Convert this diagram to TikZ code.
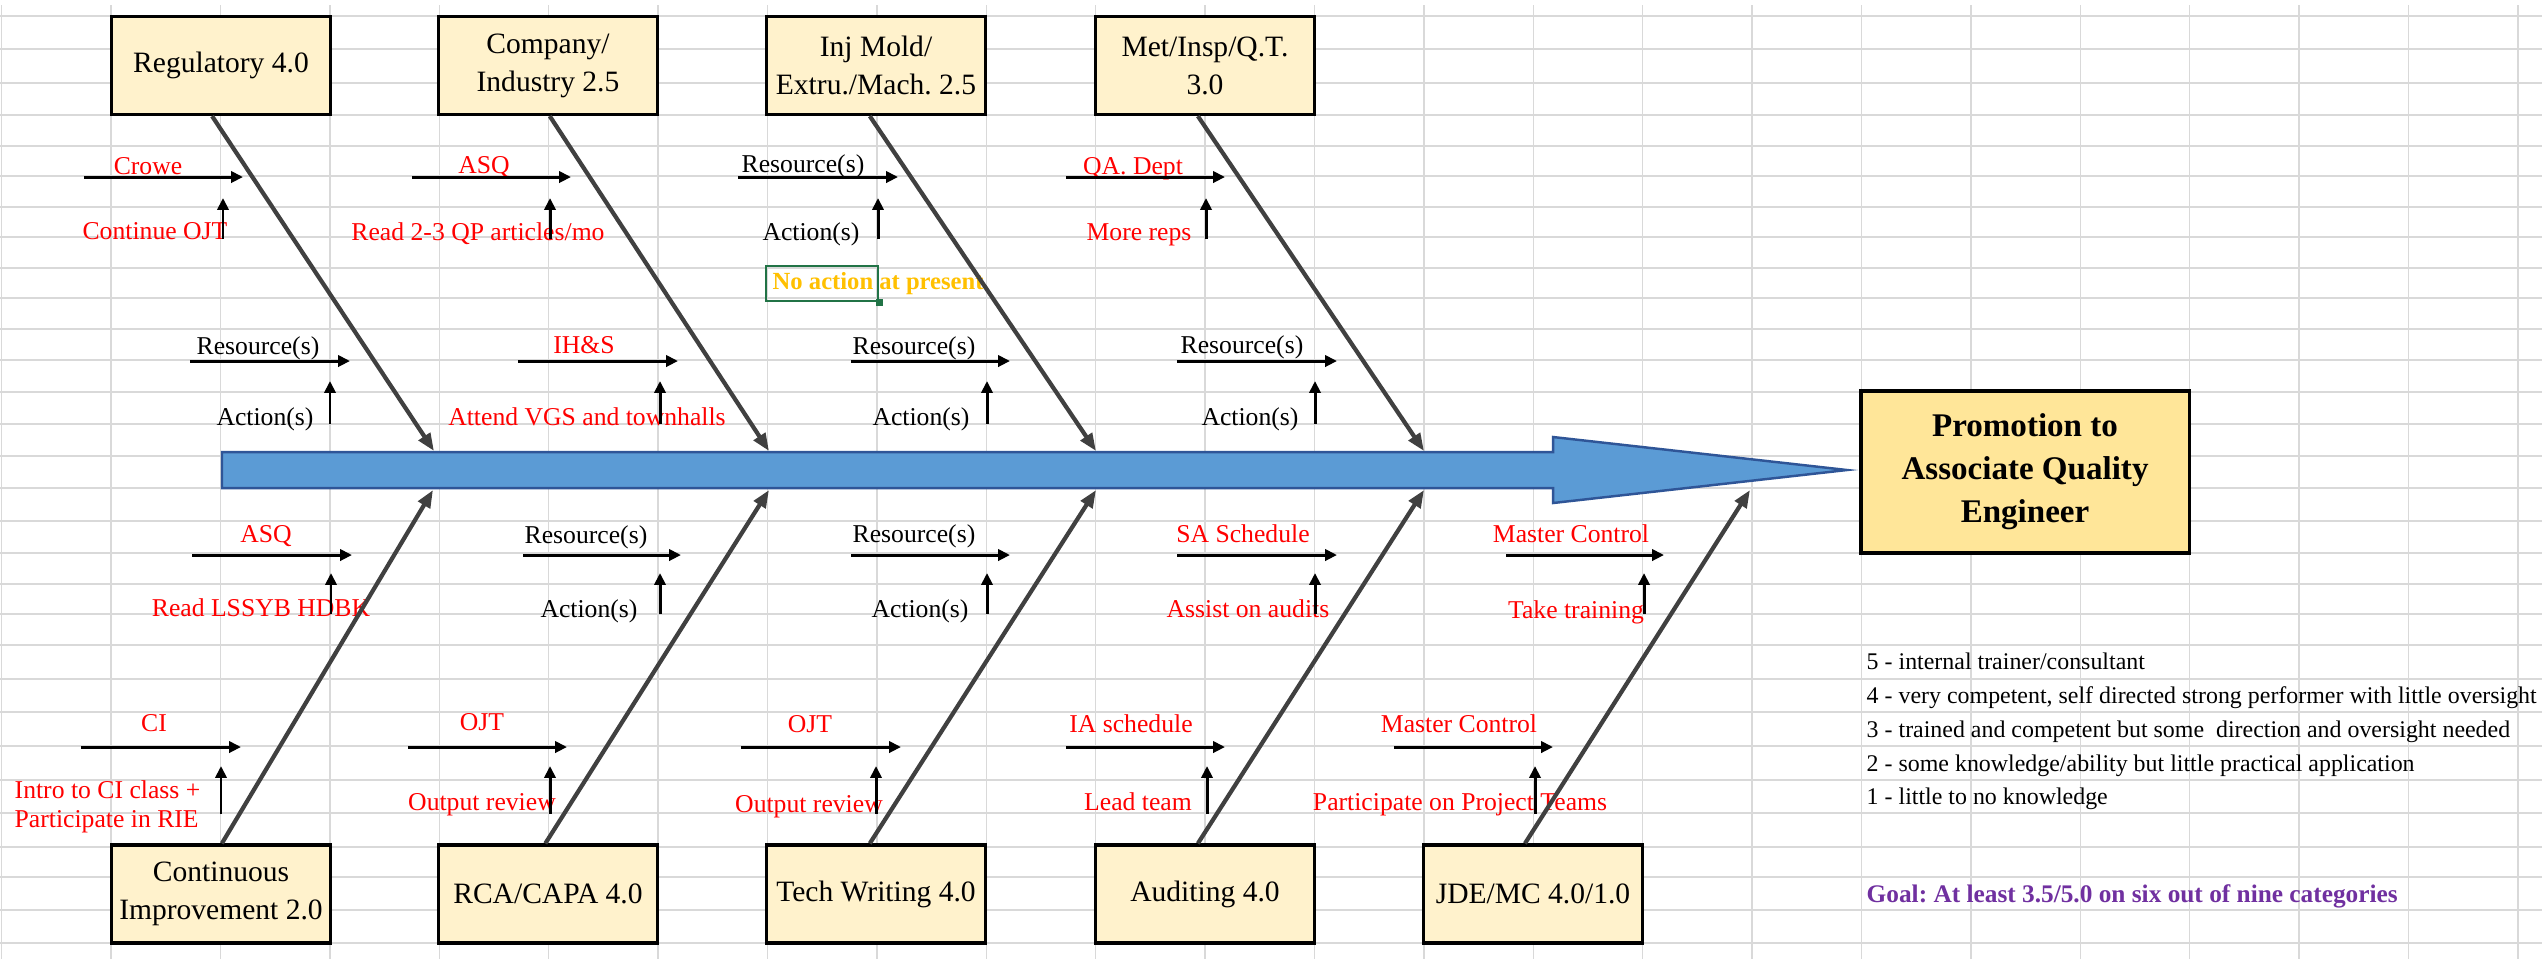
\documentclass[tikz,border=0pt]{standalone}
\usepackage{fontspec}
\setmainfont{Liberation Serif}
\usetikzlibrary{arrows.meta}

\definecolor{gridgray}{HTML}{D9D9D9}
\definecolor{boxfill}{HTML}{FFF2CC}
\definecolor{goalfill}{HTML}{FFE699}
\definecolor{spineblue}{HTML}{5B9BD5}
\definecolor{spineedge}{HTML}{2F5597}
\definecolor{bonegray}{HTML}{404040}
\definecolor{xlred}{HTML}{FF0000}
\definecolor{xlgold}{HTML}{FFC000}
\definecolor{xlgreen}{HTML}{217346}
\definecolor{xlpurple}{HTML}{7030A0}

\begin{document}
\frenchspacing
\begin{tikzpicture}[
    x=0.01cm, y=-0.01cm,
    cell/.style={draw=gridgray, line width=0.4pt},
    catbox/.style={rectangle, draw, line width=0.9pt, fill=boxfill, minimum width=2.19cm, minimum height=0.98cm, align=center, inner sep=0pt, font=\fontsize{8.4}{10.8}\selectfont},
    effectbox/.style={catbox, fill=goalfill, minimum width=3.28cm, minimum height=1.62cm, font=\fontsize{9.4}{12.2}\selectfont\bfseries},
    bone/.style={draw=bonegray, line width=1.2pt, -{Triangle[length=5pt, width=3.8pt]}},
    arrow/.style={line width=0.85pt, -{Triangle[length=3.4pt, width=3.2pt]}},
    tag/.style={inner sep=0pt, text height=1.6ex, text depth=0.45ex, font=\fontsize{7.3}{8.8}\selectfont},
    redtag/.style={tag, text=xlred},
    note/.style={inner sep=0pt, anchor=west, align=left},
]

% ====== Sheet grid ======
\fill[white] (0,0) rectangle (2542,959);
\useasboundingbox (0,0) rectangle (2542,959);
\foreach \gy in {16,49,83,115,146,176,207,237,268,298,329,360,392,424,456,488,521,553,584,614,645,679,712,746,780,813,847,877,910,943}
    \draw[cell] (0,\gy) -- (2542,\gy);
\foreach \gc in {0,...,23}
    \draw[cell] ({1.6+109.4*\gc},5) -- ({1.6+109.4*\gc},959);

% ====== Cell texts, upper half ======
\node[redtag] (reg-res1) at (148,165) {Crowe};
\node[redtag] (reg-act1) at (155,230) {Continue OJT};
\node[tag] (reg-res2) at (258,345) {Resource(s)};
\node[tag] (reg-act2) at (265,416) {Action(s)};

\node[redtag] (comp-res1) at (484,164) {ASQ};
\node[redtag] (comp-act1) at (478,231) {Read 2-3 QP articles/mo};
\node[redtag] (comp-res2) at (584,344) {IH\&S};
\node[redtag] (comp-act2) at (587,416) {Attend VGS and townhalls};

\node[tag] (inj-res1) at (803,163) {Resource(s)};
\node[tag] (inj-act1) at (811,231) {Action(s)};
\node[note, text=xlgold, font=\fontsize{7}{8.4}\selectfont\bfseries] (inj-none) at (772,284) {No action at present};
\node[draw=xlgreen, line width=0.7pt, minimum width=1.12cm, minimum height=0.35cm, inner sep=0pt] (sel) at (822,283.5) {};
\node[fill=xlgreen, minimum size=0.07cm, inner sep=0pt] (selgrip) at (sel.south east) {};
\node[tag] (inj-res2) at (914,345) {Resource(s)};
\node[tag] (inj-act2) at (921,416) {Action(s)};

\node[redtag] (met-res1) at (1133,165) {QA. Dept};
\node[redtag] (met-act1) at (1139,231) {More reps};
\node[tag] (met-res2) at (1242,344) {Resource(s)};
\node[tag] (met-act2) at (1250,416) {Action(s)};

% ====== Cell texts, lower half ======
\node[redtag] (ci-res1) at (266,533) {ASQ};
\node[redtag] (ci-act1) at (261,607) {Read LSSYB HDBK};
\node[redtag] (ci-res2) at (154,722) {CI};
\node[note, text=xlred, font=\fontsize{7.3}{8.25}\selectfont] (ci-act2) at (14,807) {Intro to CI class +\\Participate in RIE};

\node[tag] (rca-res1) at (586,534) {Resource(s)};
\node[tag] (rca-act1) at (589,608) {Action(s)};
\node[redtag] (rca-res2) at (482,721) {OJT};
\node[redtag] (rca-act2) at (482,801) {Output review};

\node[tag] (tw-res1) at (914,533) {Resource(s)};
\node[tag] (tw-act1) at (920,608) {Action(s)};
\node[redtag] (tw-res2) at (810,723) {OJT};
\node[redtag] (tw-act2) at (809,803) {Output review};

\node[redtag] (aud-res1) at (1243,533) {SA Schedule};
\node[redtag] (aud-act1) at (1248,608) {Assist on audits};
\node[redtag] (aud-res2) at (1131,723) {IA schedule};
\node[redtag] (aud-act2) at (1138,801) {Lead team};

\node[redtag] (jde-res1) at (1571,533) {Master Control};
\node[redtag] (jde-act1) at (1576,609) {Take training};
\node[redtag] (jde-res2) at (1459,723) {Master Control};
\node[redtag] (jde-act2) at (1460,801) {Participate on Project Teams};

% ====== Rating scale ======
\node[note, font=\fontsize{6.8}{9.6}\selectfont] (scale) at (1866,731.5) {5 - internal trainer/consultant\\
4 - very competent, self directed strong performer with little oversight\\
3 - trained and competent but some\ \ direction and oversight needed\\
2 - some knowledge/ability but little practical application\\
1 - little to no knowledge};
\node[note, text=xlpurple, font=\fontsize{7.2}{8.6}\selectfont\bfseries] (goal) at (1866,896) {Goal: At least 3.5/5.0 on six out of nine categories};

% ====== Spine ======
\draw[fill=spineblue, draw=spineedge, line width=0.7pt] (222,452) -- (1553,452) -- (1553,437) -- (1847,470) -- (1553,503) -- (1553,488) -- (222,488) -- cycle;
\coordinate (sp1) at (434,451);
\coordinate (sp2) at (769,451);
\coordinate (sp3) at (1096,451);
\coordinate (sp4) at (1424,451);
\coordinate (sq1) at (433,490);
\coordinate (sq2) at (769,490);
\coordinate (sq3) at (1096,490);
\coordinate (sq4) at (1424,490);
\coordinate (sq5) at (1750,490);

% ====== Category boxes ======
\node[catbox] (reg) at (221,65.5) {Regulatory 4.0};
\node[catbox] (comp) at (548,65.5) {Company/\\Industry 2.5};
\node[catbox] (inj) at (876,65.5) {Inj Mold/\\Extru./Mach. 2.5};
\node[catbox] (met) at (1205,65.5) {Met/Insp/Q.T.\\3.0};
\node[catbox] (ci) at (221,894) {Continuous\\Improvement 2.0};
\node[catbox] (rca) at (548,894) {RCA/CAPA 4.0};
\node[catbox] (tw) at (876,894) {Tech Writing 4.0};
\node[catbox] (aud) at (1205,894) {Auditing 4.0};
\node[catbox] (jde) at (1533,894) {JDE/MC 4.0/1.0};
\node[effectbox] (promo) at (2025,472) {Promotion to\\Associate Quality\\Engineer};

% ====== Bones ======
\draw[bone] (reg.260) -- (sp1);
\draw[bone] (comp.272) -- (sp2);
\draw[bone] (inj.263) -- (sp3);
\draw[bone] (met.262) -- (sp4);
\draw[bone] (ci.89) -- (sq1);
\draw[bone] (rca.93.5) -- (sq2);
\draw[bone] (tw.97) -- (sq3);
\draw[bone] (aud.98) -- (sq4);
\draw[bone] (jde.99.3) -- (sq5);

% ====== Resource / action arrows ======
\draw[arrow] (84,177) -- (243,177);
\draw[arrow] (223,239) -- (223,198);
\draw[arrow] (190,361) -- (350,361);
\draw[arrow] (330,424) -- (330,381);

\draw[arrow] (412,177) -- (571,177);
\draw[arrow] (550,239) -- (550,198);
\draw[arrow] (518,361) -- (678,361);
\draw[arrow] (660,424) -- (660,381);

\draw[arrow] (738,177) -- (898,177);
\draw[arrow] (878,239) -- (878,198);
\draw[arrow] (851,361) -- (1010,361);
\draw[arrow] (987,424) -- (987,381);

\draw[arrow] (1066,177) -- (1225,177);
\draw[arrow] (1206,239) -- (1206,198);
\draw[arrow] (1177,361) -- (1337,361);
\draw[arrow] (1315,424) -- (1315,381);

\draw[arrow] (192,555) -- (352,555);
\draw[arrow] (331,614) -- (331,573);
\draw[arrow] (81,747) -- (241,747);
\draw[arrow] (221,814) -- (221,766);

\draw[arrow] (523,555) -- (681,555);
\draw[arrow] (660,614) -- (660,573);
\draw[arrow] (408,747) -- (567,747);
\draw[arrow] (550,814) -- (550,766);

\draw[arrow] (851,555) -- (1010,555);
\draw[arrow] (987,614) -- (987,573);
\draw[arrow] (741,747) -- (901,747);
\draw[arrow] (876,814) -- (876,766);

\draw[arrow] (1177,555) -- (1337,555);
\draw[arrow] (1315,614) -- (1315,573);
\draw[arrow] (1066,747) -- (1225,747);
\draw[arrow] (1207,814) -- (1207,766);

\draw[arrow] (1506,555) -- (1664,555);
\draw[arrow] (1644,614) -- (1644,573);
\draw[arrow] (1394,747) -- (1553,747);
\draw[arrow] (1535,814) -- (1535,766);

\end{tikzpicture}
\end{document}
